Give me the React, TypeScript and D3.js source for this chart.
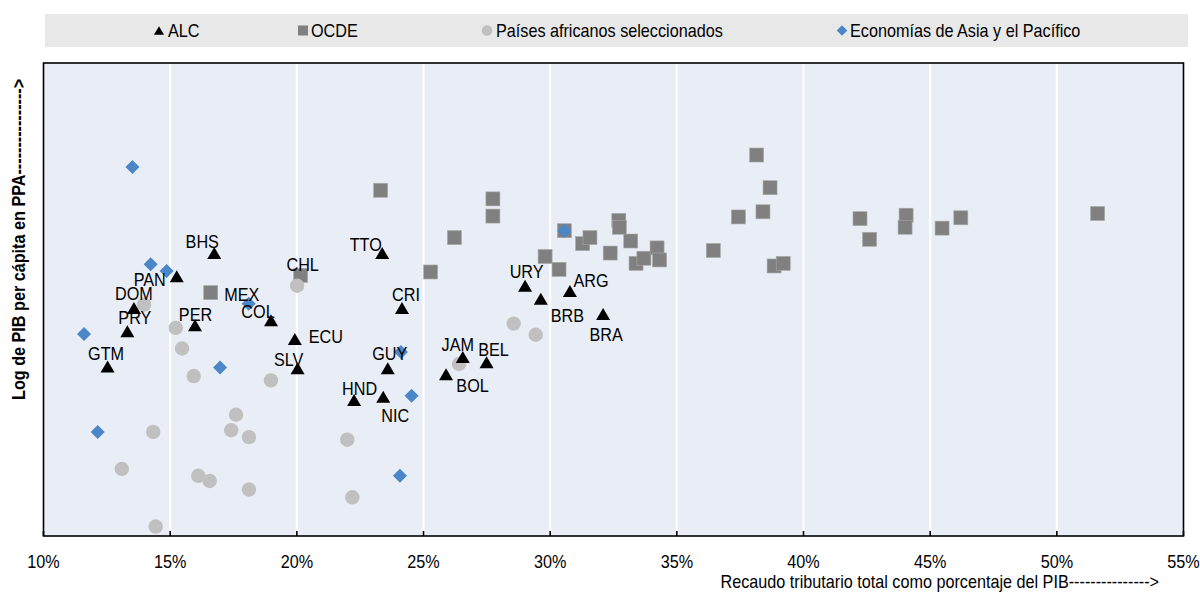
import React from "react";
import * as d3 from "d3";

// ---------- DATA ----------
const xTicks = [10, 15, 20, 25, 30, 35, 40, 45, 50, 55];

const alcCodes = ["BHS", "PAN", "DOM", "PRY", "GTM", "PER", "COL", "ECU", "SLV", "TTO", "CRI", "GUY", "HND", "NIC", "URY", "BRB", "ARG", "BRA", "JAM", "BEL", "BOL"];
const alcTax = [16.74, 15.26, 13.57, 13.31, 12.53, 15.98, 18.98, 19.92, 20.03, 23.37, 24.15, 23.59, 22.26, 23.41, 29.01, 29.63, 30.78, 32.09, 26.55, 27.49, 25.89];
const alcGdp = [9.79, 9.52, 9.15, 8.88, 8.47, 8.95, 9.01, 8.79, 8.45, 9.79, 9.15, 8.45, 8.08, 8.12, 9.41, 9.26, 9.35, 9.08, 8.58, 8.52, 8.38];

const oecdCodes = ["MEX", "CHL", "", "", "", "", "", "", "", "", "", "", "", "", "", "", "", "", "", "", "", "", "", "", "", "", "", "", "", "", "", "", "", ""];
const oecdTax = [16.6, 20.15, 23.31, 25.28, 26.22, 27.74, 27.74, 29.8, 30.35, 30.56, 31.28, 31.57, 32.37, 32.71, 32.73, 33.18, 33.39, 33.7, 34.22, 34.32, 36.44, 37.43, 38.15, 38.68, 38.4, 38.84, 39.2, 42.23, 42.61, 44.05, 44.01, 45.47, 46.21, 51.61];
const oecdGdp = [9.33, 9.53, 10.52, 9.57, 9.97, 10.42, 10.22, 9.75, 9.6, 10.05, 9.9, 9.97, 9.79, 10.17, 10.09, 9.93, 9.67, 9.73, 9.85, 9.71, 9.82, 10.21, 10.93, 10.55, 10.27, 9.64, 9.67, 10.19, 9.95, 10.23, 10.09, 10.08, 10.2, 10.25];

const africaTax = [13.97, 15.22, 15.47, 15.93, 20.01, 18.98, 26.4, 28.56, 29.43, 14.33, 13.09, 14.43, 17.6, 17.41, 18.11, 16.11, 16.56, 18.11, 21.99, 22.19];
const africaGdp = [9.19, 8.92, 8.68, 8.36, 9.41, 8.31, 8.5, 8.97, 8.84, 7.71, 7.28, 6.61, 7.91, 7.73, 7.65, 7.2, 7.14, 7.04, 7.62, 6.95];

const asiaTax = [13.51, 14.23, 14.86, 11.6, 16.97, 18.1, 24.11, 24.53, 24.07, 12.14, 30.56];
const asiaGdp = [10.79, 9.66, 9.58, 8.85, 8.46, 9.2, 8.64, 8.13, 7.2, 7.71, 10.05];

const seriesNames = ["ALC", "OCDE", "Países africanos seleccionados", "Economías de Asia y el Pacífico"];
const xTitle = "Recaudo tributario total como porcentaje del PIB--------------->";
const yTitle = "Log de PIB per cápita en PPA---------------->";

// ---------- STYLE ----------
const FONT = "'Liberation Sans', Arial, Helvetica, sans-serif";
const COL_ALC = "#000000";
const COL_OECD = "#808080";
const COL_AFR = "#c0c0c0";
const COL_ASIA = "#4a86c8";
const PLOT_BG = "#e9edf6";

// label offsets: [dx of label centre, dy of baseline] relative to marker (pixels)
const labelOffsets: Record<string, [number, number]> = {
  BHS: [-12, -5], PAN: [-27, 10], DOM: [0, -8], PRY: [7.5, -7.5], GTM: [-1.5, -6.5],
  PER: [0.5, -4], MEX: [31, 8.5], COL: [-13, -2.5], CHL: [2, -4.5], ECU: [31, 3.5],
  SLV: [-9, -2], TTO: [-16.5, -2.5], CRI: [4, -7.5], GUY: [2, -8.5], HND: [5.5, -5],
  NIC: [12, 25], URY: [1.5, -7.5], BRB: [26.5, 23.5], ARG: [21, -3.5], BRA: [3, 27],
  JAM: [-5, -6], BEL: [7, -6], BOL: [26.5, 18],
};

const triPath = (s: number) => `M0,${-6 * s}L${7 * s},${6 * s}L${-7 * s},${6 * s}Z`;
const diaPath = (s: number) => `M0,${-7 * s}L${7 * s},0L0,${7 * s}L${-7 * s},0Z`;

function Txt({ x, y, anchor = "start", size = 18, weight = "normal", rotate = 0, children }: any) {
  return (
    <text
      transform={`translate(${x},${y}) rotate(${rotate}) scale(0.9,1)`}
      textAnchor={anchor}
      fontSize={size}
      fontWeight={weight}
      fontFamily={FONT}
      fill="#000"
    >
      {children}
    </text>
  );
}

export default function App() {
  const L = 43.5, R = 1183.5, T = 63, B = 536;
  const x = d3.scaleLinear().domain([10, 55]).range([L, R]);
  const y = d3.scaleLinear().domain([6.5, 12]).range([B, T]);

  const oecd = oecdTax.map((t, i) => ({ t, g: oecdGdp[i], c: oecdCodes[i] }));
  const afr = africaTax.map((t, i) => ({ t, g: africaGdp[i] }));
  const asia = asiaTax.map((t, i) => ({ t, g: asiaGdp[i] }));
  const alc = alcTax.map((t, i) => ({ t, g: alcGdp[i], c: alcCodes[i] }));
  const labelled = [...oecd.filter((d) => d.c), ...alc];

  const legendItems = [
    { mx: 159, tx: 168, kind: "tri" },
    { mx: 303, tx: 311, kind: "sq" },
    { mx: 487, tx: 496, kind: "ci" },
    { mx: 842, tx: 850, kind: "di" },
  ];
  const legendY = 30.5;

  return (
    <svg
      width={1200}
      height={592}
      style={{ position: "absolute", left: 0, top: 0, display: "block", background: "#fff" }}
    >
      {/* legend */}
      <rect x={45} y={14} width={1143} height={33} fill="#e8e8e8" />
      {legendItems.map((it, i) => (
        <g key={i}>
          <g transform={`translate(${it.mx},${legendY})`}>
            {it.kind === "tri" && <path d={triPath(0.72)} fill={COL_ALC} />}
            {it.kind === "sq" && <rect x={-5} y={-5} width={10} height={10} fill={COL_OECD} />}
            {it.kind === "ci" && <circle r={5.3} fill={COL_AFR} />}
            {it.kind === "di" && <path d={diaPath(0.75)} fill={COL_ASIA} />}
          </g>
          <Txt x={it.tx} y={legendY + 6.5}>{seriesNames[i]}</Txt>
        </g>
      ))}

      {/* plot background */}
      <rect x={L} y={T} width={R - L} height={B - T} fill={PLOT_BG} />
      {xTicks.slice(1, -1).map((v) => (
        <line key={v} x1={x(v)} x2={x(v)} y1={T} y2={B} stroke="#fff" strokeWidth={2} />
      ))}

      {/* OECD squares */}
      {oecd.map((d, i) => (
        <rect
          key={i}
          x={x(d.t) - 7}
          y={y(d.g) - 7}
          width={14}
          height={14}
          fill={COL_OECD}
          stroke="#a8a8a8"
          strokeWidth={0.6}
        />
      ))}
      {/* Africa circles */}
      {afr.map((d, i) => (
        <circle key={i} cx={x(d.t)} cy={y(d.g)} r={7.2} fill={COL_AFR} />
      ))}
      {/* Asia diamonds */}
      {asia.map((d, i) => (
        <path key={i} d={diaPath(1)} transform={`translate(${x(d.t)},${y(d.g)})`} fill={COL_ASIA} />
      ))}
      {/* ALC triangles */}
      {alc.map((d, i) => (
        <path key={i} d={triPath(1)} transform={`translate(${x(d.t)},${y(d.g)})`} fill={COL_ALC} />
      ))}
      {/* labels */}
      {labelled.map((d, i) => {
        const off = labelOffsets[d.c] || [0, -8];
        return (
          <Txt key={i} x={x(d.t) + off[0]} y={y(d.g) + off[1]} anchor="middle">
            {d.c}
          </Txt>
        );
      })}

      {/* frame */}
      <rect x={L} y={T} width={R - L} height={B - T} fill="none" stroke="#000" strokeWidth={1.6} />
      {xTicks.map((v) => (
        <line key={v} x1={x(v)} x2={x(v)} y1={B} y2={B - 5} stroke="#000" strokeWidth={1.6} />
      ))}
      {xTicks.map((v) => (
        <Txt key={v} x={x(v)} y={568} anchor="middle">{`${v}%`}</Txt>
      ))}

      {/* axis titles */}
      <Txt x={720.5} y={588}>{xTitle}</Txt>
      <Txt x={25} y={400} rotate={-90} weight="bold">{yTitle}</Txt>
    </svg>
  );
}
